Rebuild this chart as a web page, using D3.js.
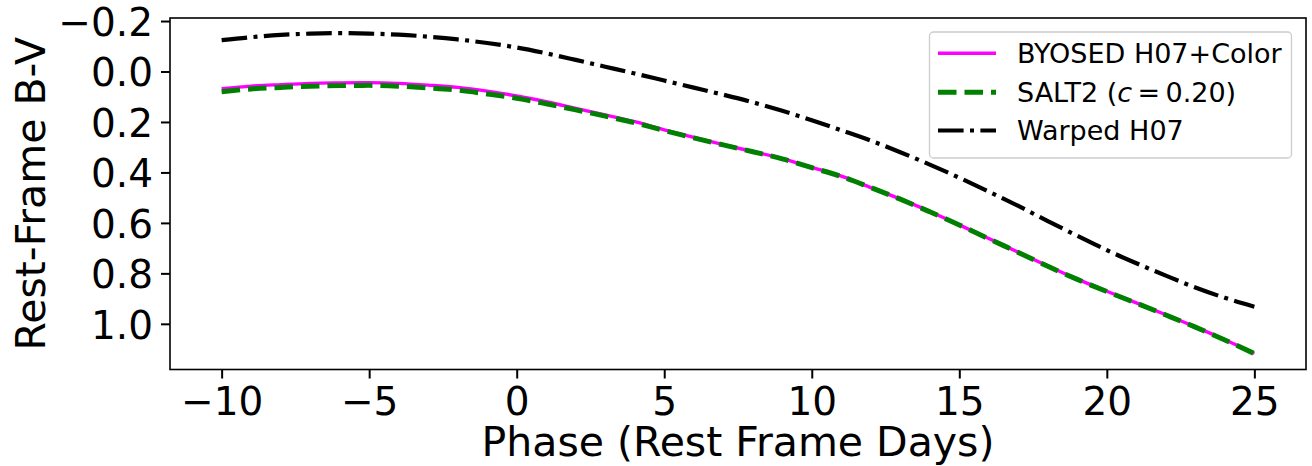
<!DOCTYPE html>
<html>
<head>
<meta charset="utf-8">
<script src="https://cdn.jsdelivr.net/npm/d3@7"></script>
<style>
  html, body { margin: 0; padding: 0; background: #fff; }
  svg { display: block; }
  text { font-family: "DejaVu Sans", sans-serif; fill: #000; }
</style>
</head>
<body>
<svg id="chart" width="1312" height="466"></svg>
<script>
// Rest-frame phase in days
const phase = [-10,-9,-8,-7,-6,-5,-4,-3,-2,-1,0,1,2,3,4,5,6,7,8,9,10,11,12,13,14,15,16,17,18,19,20,21,22,23,24,25];

// B-V colour curves
const byosed = [0.068,0.058,0.052,0.047,0.045,0.044,0.047,0.054,0.063,0.078,0.097,0.120,0.146,0.172,0.199,0.231,0.261,0.290,0.317,0.345,0.380,0.415,0.460,0.505,0.555,0.608,0.662,0.716,0.771,0.823,0.871,0.917,0.964,1.012,1.063,1.117];
const salt2  = [0.080,0.069,0.063,0.058,0.056,0.055,0.058,0.065,0.074,0.089,0.106,0.128,0.152,0.177,0.203,0.234,0.263,0.291,0.318,0.346,0.381,0.416,0.460,0.506,0.556,0.608,0.663,0.717,0.772,0.824,0.872,0.918,0.965,1.013,1.064,1.118];
const warped = [-0.124,-0.136,-0.145,-0.150,-0.152,-0.150,-0.146,-0.138,-0.127,-0.113,-0.095,-0.072,-0.046,-0.019,0.008,0.036,0.064,0.092,0.122,0.156,0.193,0.233,0.274,0.320,0.369,0.421,0.476,0.533,0.593,0.651,0.708,0.760,0.809,0.856,0.897,0.932];

const xTicks = [-10,-5,0,5,10,15,20,25];
const xTickLabels = ["\u221210","\u22125","0","5","10","15","20","25"];
const yTicks = [-0.2,0.0,0.2,0.4,0.6,0.8,1.0];
const yTickLabels = ["\u22120.2","0.0","0.2","0.4","0.6","0.8","1.0"];

const legendNames = ["BYOSED H07+Color", "SALT2", "Warped H07"];

const svg = d3.select("#chart");
const plotLeft = 170, plotRight = 1306, plotTop = 18, plotBottom = 369.5;

const x = d3.scaleLinear().domain([-11.75, 26.75]).range([plotLeft, plotRight]);
const y = d3.scaleLinear().domain([-0.212, 1.181]).range([plotTop, plotBottom]);

const styles = [
  { data: byosed, color: "#ff00ff", width: 3.4, dash: null },
  { data: salt2,  color: "#008000", width: 5, dash: "18.5,8" },
  { data: warped, color: "#000000", width: 4.2, dash: "25.6,6.4,4,6.4" }
];

const line = d3.line()
  .x(d => x(d[0]))
  .y(d => y(d[1]))
  .curve(d3.curveMonotoneX);

const plot = svg.append("g");
styles.forEach(s => {
  plot.append("path")
    .datum(phase.map((p, i) => [p, s.data[i]]))
    .attr("d", line)
    .attr("fill", "none")
    .attr("stroke", s.color)
    .attr("stroke-width", s.width)
    .attr("stroke-dasharray", s.dash)
    .attr("stroke-linecap", "butt");
});

// Axes frame
svg.append("rect")
  .attr("x", plotLeft).attr("y", plotTop)
  .attr("width", plotRight - plotLeft).attr("height", plotBottom - plotTop)
  .attr("fill", "none").attr("stroke", "#000").attr("stroke-width", 1.6);

// X axis
const xAxis = d3.axisBottom(x)
  .tickValues(xTicks)
  .tickFormat((d, i) => xTickLabels[i])
  .tickSize(9).tickPadding(8);
const gx = svg.append("g").attr("transform", `translate(0,${plotBottom})`).call(xAxis);
gx.select(".domain").remove();
gx.selectAll(".tick line").attr("stroke-width", 2);
gx.selectAll(".tick text")
  .attr("font-size", 39)
  .attr("font-family", "DejaVu Sans")
  .attr("dy", null).attr("y", 0)
  .attr("transform", "translate(0,45.5)");

// Y axis
const yAxis = d3.axisLeft(y)
  .tickValues(yTicks)
  .tickFormat((d, i) => yTickLabels[i])
  .tickSize(9).tickPadding(8);
const gy = svg.append("g").attr("transform", `translate(${plotLeft},0)`).call(yAxis);
gy.select(".domain").remove();
gy.selectAll(".tick line").attr("stroke-width", 2);
gy.selectAll(".tick text")
  .attr("font-size", 39)
  .attr("font-family", "DejaVu Sans")
  .attr("dy", "0.365em");

// Axis titles
svg.append("text")
  .attr("x", (plotLeft + plotRight) / 2).attr("y", 456)
  .attr("text-anchor", "middle")
  .attr("font-size", 41)
  .text("Phase (Rest Frame Days)");

svg.append("text")
  .attr("transform", `translate(45,${(plotTop + plotBottom) / 2}) rotate(-90)`)
  .attr("text-anchor", "middle")
  .attr("font-size", 41)
  .text("Rest-Frame B-V");

// Legend
const lg = svg.append("g");
lg.append("rect")
  .attr("x", 929.5).attr("y", 32)
  .attr("width", 362).attr("height", 126)
  .attr("rx", 4).attr("ry", 4)
  .attr("fill", "#fff").attr("fill-opacity", 0.8)
  .attr("stroke", "#cccccc").attr("stroke-width", 1.3);

const rowY = [53.3, 92.3, 130.5];
styles.forEach((s, i) => {
  lg.append("line")
    .attr("x1", 938).attr("x2", 996)
    .attr("y1", rowY[i]).attr("y2", rowY[i])
    .attr("stroke", s.color)
    .attr("stroke-width", s.width)
    .attr("stroke-dasharray", s.dash);
  const t = lg.append("text")
    .attr("x", 1017).attr("y", rowY[i] + 9.8)
    .attr("font-size", 27);
  if (i === 1) {
    t.append("tspan").text(legendNames[i] + " (");
    t.append("tspan").attr("font-style", "italic").text("c");
    t.append("tspan").text("\u2009=\u20090.20)");
  } else {
    t.text(legendNames[i]);
  }
});
</script>
</body>
</html>
